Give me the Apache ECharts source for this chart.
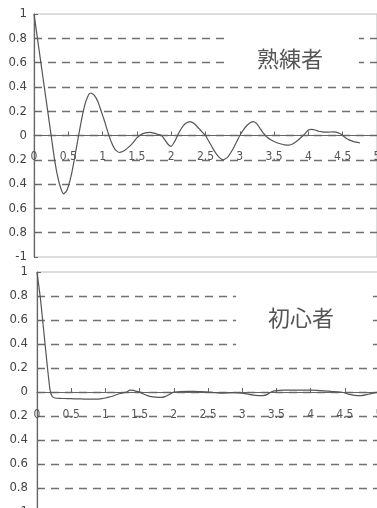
<!DOCTYPE html>
<html>
<head>
<meta charset="utf-8">
<script src="https://cdn.jsdelivr.net/npm/echarts@6/dist/echarts.min.js"></script>
<style>
html,body{margin:0;padding:0;background:#fff;}
#c{width:377px;height:508px;}
</style>
</head>
<body>
<div id="c"></div>
<script>
// 熟練者 (expert)
var expertX = [0,0.05,0.1,0.15,0.2,0.25,0.3,0.35,0.4,0.43,0.47,0.5,0.55,0.6,0.65,0.7,0.75,0.8,0.83,0.88,0.93,0.98,1.03,1.08,1.13,1.18,1.24,1.3,1.35,1.4,1.45,1.5,1.55,1.6,1.65,1.69,1.75,1.8,1.86,1.9,1.95,2.0,2.05,2.1,2.15,2.2,2.27,2.33,2.4,2.45,2.5,2.55,2.6,2.65,2.7,2.76,2.82,2.87,2.92,2.96,3.0,3.05,3.1,3.15,3.2,3.25,3.3,3.35,3.4,3.45,3.5,3.55,3.6,3.65,3.71,3.76,3.81,3.86,3.9,3.95,4.0,4.05,4.1,4.15,4.2,4.25,4.3,4.35,4.4,4.45,4.5,4.55,4.6,4.65,4.7,4.75];
var expertY = [1.0,0.8,0.6,0.4,0.2,0.0,-0.2,-0.35,-0.45,-0.48,-0.46,-0.42,-0.31,-0.16,0.0,0.15,0.27,0.34,0.35,0.33,0.28,0.2,0.115,0.022,-0.058,-0.114,-0.14,-0.13,-0.11,-0.085,-0.055,-0.02,0.005,0.018,0.024,0.025,0.02,0.01,0.0,-0.03,-0.07,-0.09,-0.05,0.01,0.06,0.095,0.115,0.1,0.06,0.03,0.0,-0.05,-0.1,-0.145,-0.18,-0.2,-0.18,-0.14,-0.09,-0.045,0.0,0.045,0.08,0.105,0.115,0.095,0.055,0.015,-0.015,-0.035,-0.05,-0.062,-0.07,-0.077,-0.08,-0.072,-0.055,-0.033,-0.012,0.015,0.045,0.05,0.045,0.035,0.03,0.028,0.028,0.03,0.028,0.018,0.0,-0.022,-0.038,-0.048,-0.055,-0.06];
// 初心者 (beginner)
var noviceX = [0,0.05,0.1,0.15,0.19,0.22,0.26,0.35,0.45,0.55,0.65,0.75,0.87,0.95,1.0,1.05,1.1,1.15,1.2,1.25,1.31,1.36,1.41,1.46,1.5,1.55,1.6,1.65,1.7,1.76,1.82,1.87,1.92,1.96,2.0,2.1,2.2,2.3,2.4,2.5,2.6,2.7,2.8,2.9,3.0,3.1,3.2,3.3,3.37,3.42,3.5,3.6,3.8,4.0,4.1,4.2,4.3,4.45,4.55,4.65,4.75,4.85,4.95,5.0];
var noviceY = [1.0,0.78,0.5,0.22,0.02,-0.035,-0.05,-0.053,-0.055,-0.057,-0.058,-0.06,-0.06,-0.055,-0.05,-0.043,-0.035,-0.025,-0.015,-0.007,0.0,0.015,0.013,0.005,0.0,-0.015,-0.027,-0.036,-0.041,-0.045,-0.045,-0.038,-0.025,-0.012,0.0,0.004,0.005,0.005,0.003,0.0,-0.006,-0.01,-0.008,-0.006,-0.01,-0.02,-0.028,-0.03,-0.02,0.0,0.012,0.015,0.015,0.015,0.014,0.01,0.005,0.0,-0.018,-0.028,-0.03,-0.018,-0.005,0.0];

var yTickValues = [-1,-0.8,-0.6,-0.4,-0.2,0,0.2,0.4,0.6,0.8,1];
var yTickLabels = ['-1','0.8','0.6','0.4','0.2','0','0.2','0.4','0.6','0.8','1'];
var xTickLabels = ['0','0.5','1','1.5','2','2.5','3','3.5','4','4.5','5'];
var panelTitles = ['熟練者','初心者'];

function pairs(xs, ys){ return xs.map(function(x,i){ return [x, ys[i]]; }); }
function yFmt(v){
  for (var i=0;i<yTickValues.length;i++){ if (Math.abs(yTickValues[i]-v)<1e-6) return yTickLabels[i]; }
  return '';
}
function xFmt(v){
  var i = Math.round(v/0.5);
  return xTickLabels[i] || '';
}

var labelFont = "'Liberation Sans Narrow','DejaVu Sans Condensed','Liberation Sans',sans-serif";

function xAxis(gi, off, margin){
  return {
    type:'value', gridIndex:gi, min:0, max:5, interval:0.5, position:'bottom', offset:off,
    axisLine:{onZero:false, lineStyle:{color:'#666', width:1.2}},
    axisTick:{show:true, inside:true, length:4, lineStyle:{color:'#666'}},
    axisLabel:{show:true, margin:margin, fontSize:12, color:'#555', fontFamily:labelFont, formatter:xFmt, showMaxLabel:true, showMinLabel:true, hideOverlap:false},
    splitLine:{show:false}
  };
}
function yAxis(gi, margin){
  return {
    type:'value', gridIndex:gi, min:-1, max:1, interval:0.2,
    axisLine:{show:true, onZero:false, lineStyle:{color:'#666', width:1.2}},
    axisTick:{show:true, inside:true, length:4, lineStyle:{color:'#666'}},
    axisLabel:{margin:margin, fontSize:13, color:'#444', fontFamily:labelFont, formatter:yFmt, showMinLabel:true, showMaxLabel:true, hideOverlap:false},
    splitLine:{show:true, showMinLine:false, showMaxLine:false, lineStyle:{type:[8,6], color:'#707070', width:1.3}}
  };
}

var chart = echarts.init(document.getElementById('c'), null, {renderer:'canvas'});
chart.setOption({
  backgroundColor:'#fff',
  animation:false,
  grid:[
    {left:34, top:14, width:343, height:243, show:true, borderColor:'#bbb', borderWidth:1, backgroundColor:'transparent', containLabel:false, outerBoundsMode:'none'},
    {left:37, top:272, width:342, height:240, show:true, borderColor:'#bbb', borderWidth:1, backgroundColor:'transparent', containLabel:false, outerBoundsMode:'none'}
  ],
  xAxis:[xAxis(0,-121.5,15), xAxis(1,-120,17)],
  yAxis:[yAxis(0,7), yAxis(1,9)],
  series:[
    {type:'line', xAxisIndex:0, yAxisIndex:0, data:pairs(expertX, expertY), showSymbol:false, symbol:'none', smooth:0.15,
      lineStyle:{color:'#555', width:1.2}, z:5},
    {type:'line', xAxisIndex:1, yAxisIndex:1, data:pairs(noviceX, noviceY), showSymbol:false, symbol:'none', smooth:0.15,
      lineStyle:{color:'#555', width:1.2}, z:5}
  ],
  graphic:[
    {type:'rect', shape:{x:226, y:27, width:133, height:50}, style:{fill:'#fff'}, z:10},
    {type:'text', x:290, y:59, style:{text:panelTitles[0], font:"22px 'Noto Sans CJK JP'", fill:'#555', textAlign:'center', textVerticalAlign:'middle'}, z:11},
    {type:'rect', shape:{x:236, y:287, width:135, height:68}, style:{fill:'#fff'}, z:10},
    {type:'text', x:301, y:318, style:{text:panelTitles[1], font:"22px 'Noto Sans CJK JP'", fill:'#555', textAlign:'center', textVerticalAlign:'middle'}, z:11}
  ]
});
</script>
</body>
</html>
